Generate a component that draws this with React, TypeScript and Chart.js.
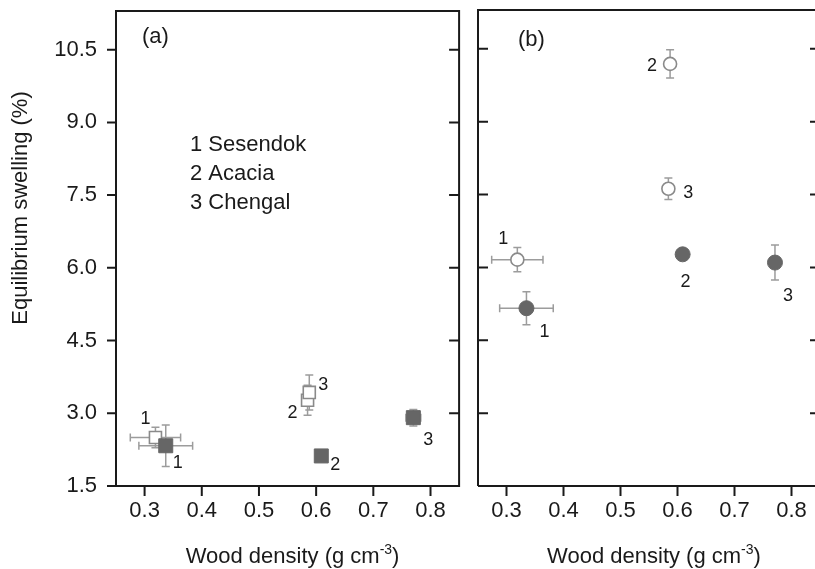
import React, { useEffect, useRef } from "react";
import { Chart, registerables } from "chart.js";
Chart.register(...registerables);

// ---------- data ----------
const xTicks = [0.3, 0.4, 0.5, 0.6, 0.7, 0.8];
const yTicks = [1.5, 3.0, 4.5, 6.0, 7.5, 9.0, 10.5];
const xMin = 0.25;
const xMax = 0.85;
const yMin = 1.5;
const yMax = 11.3;

const speciesIds = ["1", "2", "3"];
const speciesNames = ["Sesendok", "Acacia", "Chengal"];
const yTitle = "Equilibrium swelling (%)";

// Panel (a) - squares
const aOpenX = [0.319, 0.585, 0.588];
const aOpenY = [2.5, 3.27, 3.43];
const aOpenXErr = [0.044, 0, 0];
const aOpenYErr = [0.21, 0.31, 0.36];
const aFilledX = [0.337, 0.609, 0.77];
const aFilledY = [2.33, 2.12, 2.91];
const aFilledXErr = [0.047, 0, 0.013];
const aFilledYErr = [0.43, 0, 0.17];

// Panel (b) - circles
const bOpenX = [0.319, 0.587, 0.584];
const bOpenY = [6.16, 10.19, 7.62];
const bOpenXErr = [0.045, 0, 0];
const bOpenYErr = [0.25, 0.29, 0.22];
const bFilledX = [0.335, 0.609, 0.771];
const bFilledY = [5.16, 6.27, 6.1];
const bFilledXErr = [0.047, 0, 0];
const bFilledYErr = [0.34, 0, 0.36];

// ---------- styles ----------
const FONT = '"Liberation Sans", Arial, Helvetica, sans-serif';
const INK = "#1a1a1a";
const FILLED = "#666666";
const OPEN_EDGE = "#8a8a8a";
const ERR = "#9c9c9c";

// label offsets (pixels from the marker)
const aOpenOff = [[-10, -18], [-15, 13], [14, -7]];
const aFilledOff = [[12, 17], [14, 9], [15, 22]];
const bOpenOff = [[-14, -21], [-18, 2], [20, 4]];
const bFilledOff = [[18, 24], [3, 28], [13, 33]];

type Panel = {
  tag: string;
  tagX: number;
  tagY: number;
  marker: "rect" | "circle";
  openX: number[]; openY: number[]; openXErr: number[]; openYErr: number[];
  filledX: number[]; filledY: number[]; filledXErr: number[]; filledYErr: number[];
  openOff: number[][]; filledOff: number[][];
  legend: boolean;
  yLabels: boolean;
  leftTicksOut: boolean;
  yAxisWidth: number;
  bottomExt: number;
};

const pts = (xs: number[], ys: number[]) => xs.map((x, i) => ({ x, y: ys[i] }));

const panelPlugin = {
  id: "panelDeco",
  beforeDatasetsDraw(chart: any) {
    const spec: Panel = chart.options.plugins.panelDeco.spec;
    const { ctx, chartArea: ca } = chart;
    const xs = chart.scales.x;
    const ys = chart.scales.y;
    ctx.save();
    // error bars
    ctx.strokeStyle = ERR;
    ctx.lineWidth = 1.5;
    chart.data.datasets.forEach((ds: any) => {
      ds.data.forEach((p: any, j: number) => {
        const px = xs.getPixelForValue(p.x);
        const py = ys.getPixelForValue(p.y);
        const xe = ds.xErr[j];
        const ye = ds.yErr[j];
        const cap = 4;
        ctx.beginPath();
        if (xe > 0) {
          const x1 = xs.getPixelForValue(p.x - xe);
          const x2 = xs.getPixelForValue(p.x + xe);
          ctx.moveTo(x1, py); ctx.lineTo(x2, py);
          ctx.moveTo(x1, py - cap); ctx.lineTo(x1, py + cap);
          ctx.moveTo(x2, py - cap); ctx.lineTo(x2, py + cap);
        }
        if (ye > 0) {
          const y1 = ys.getPixelForValue(p.y - ye);
          const y2 = ys.getPixelForValue(p.y + ye);
          ctx.moveTo(px, y1); ctx.lineTo(px, y2);
          ctx.moveTo(px - cap, y1); ctx.lineTo(px + cap, y1);
          ctx.moveTo(px - cap, y2); ctx.lineTo(px + cap, y2);
        }
        ctx.stroke();
      });
    });
    // frame
    ctx.strokeStyle = INK;
    ctx.lineWidth = 2;
    ctx.beginPath();
    ctx.moveTo(ca.left - spec.bottomExt, ca.bottom);
    ctx.lineTo(ca.right, ca.bottom);
    ctx.lineTo(ca.right, ca.top);
    ctx.lineTo(ca.left, ca.top);
    ctx.lineTo(ca.left, ca.bottom);
    ctx.stroke();
    // ticks
    const tl = 10;
    ctx.beginPath();
    yTicks.forEach((v) => {
      const y = ys.getPixelForValue(v);
      if (v === yMin) return;
      if (spec.leftTicksOut) { ctx.moveTo(ca.left - tl + 1, y); ctx.lineTo(ca.left, y); }
      else { ctx.moveTo(ca.left, y); ctx.lineTo(ca.left + tl, y); }
      ctx.moveTo(ca.right - tl, y); ctx.lineTo(ca.right, y);
    });
    xTicks.forEach((v) => {
      const x = xs.getPixelForValue(v);
      ctx.moveTo(x, ca.bottom); ctx.lineTo(x, ca.bottom + tl);
    });
    ctx.stroke();
    ctx.restore();
  },
  afterDatasetsDraw(chart: any) {
    const spec: Panel = chart.options.plugins.panelDeco.spec;
    const { ctx, chartArea: ca } = chart;
    const xs = chart.scales.x;
    const ys = chart.scales.y;
    ctx.save();
    ctx.fillStyle = INK;
    // point id labels
    ctx.font = `18px ${FONT}`;
    ctx.textAlign = "center";
    ctx.textBaseline = "middle";
    chart.data.datasets.forEach((ds: any) => {
      ds.data.forEach((p: any, j: number) => {
        const px = xs.getPixelForValue(p.x);
        const py = ys.getPixelForValue(p.y);
        ctx.fillText(speciesIds[j], px + ds.labelOff[j][0], py + ds.labelOff[j][1]);
      });
    });
    // panel tag
    ctx.font = `22px ${FONT}`;
    ctx.textAlign = "left";
    ctx.fillText(spec.tag, spec.tagX, spec.tagY);
    // legend text + y title
    if (spec.legend) {
      speciesNames.forEach((n, i) => {
        ctx.fillText(`${speciesIds[i]} ${n}`, 190, 145 + i * 29);
      });
      ctx.save();
      ctx.translate(21, 208);
      ctx.rotate(-Math.PI / 2);
      ctx.textAlign = "center";
      ctx.textBaseline = "middle";
      ctx.fillText(yTitle, 0, 0);
      ctx.restore();
    }
    // x-axis title with superscript
    const main = "Wood density (g cm";
    const sup = "-3";
    const close = ")";
    ctx.font = `22px ${FONT}`;
    const wMain = ctx.measureText(main).width;
    const wClose = ctx.measureText(close).width;
    ctx.font = `14px ${FONT}`;
    const wSup = ctx.measureText(sup).width;
    const total = wMain + wSup + wClose;
    const x0 = (ca.left + ca.right) / 2 + 5 - total / 2;
    const base = 563;
    ctx.textAlign = "left";
    ctx.textBaseline = "alphabetic";
    ctx.font = `22px ${FONT}`;
    ctx.fillText(main, x0, base);
    ctx.font = `14px ${FONT}`;
    ctx.fillText(sup, x0 + wMain, base - 9);
    ctx.font = `22px ${FONT}`;
    ctx.fillText(close, x0 + wMain + wSup, base);
    ctx.restore();
  },
};

function makeConfig(spec: Panel): any {
  const isRect = spec.marker === "rect";
  return {
    type: "scatter",
    data: {
      datasets: [
        {
          label: "filled",
          data: pts(spec.filledX, spec.filledY),
          xErr: spec.filledXErr,
          yErr: spec.filledYErr,
          labelOff: spec.filledOff,
          pointStyle: spec.marker,
          pointRadius: isRect ? 9.9 : 7.5,
          backgroundColor: FILLED,
          borderColor: FILLED,
          borderWidth: 1,
        },
        {
          label: "open",
          data: pts(spec.openX, spec.openY),
          xErr: spec.openXErr,
          yErr: spec.openYErr,
          labelOff: spec.openOff,
          pointStyle: spec.marker,
          pointRadius: isRect ? 8.5 : 6.5,
          backgroundColor: "#ffffff",
          borderColor: OPEN_EDGE,
          borderWidth: 1.6,
        },
      ],
    },
    options: {
      responsive: false,
      animation: false,
      devicePixelRatio: 1,
      layout: { padding: { left: 0, top: 10, right: 10, bottom: 0 } },
      plugins: {
        legend: { display: false },
        tooltip: { enabled: false },
        panelDeco: { spec },
      },
      scales: {
        x: {
          type: "linear",
          min: xMin,
          max: xMax,
          afterBuildTicks: (s: any) => { s.ticks = xTicks.map((v) => ({ value: v })); },
          afterFit: (s: any) => { s.height = 83; s.paddingLeft = 0; s.paddingRight = 0; },
          grid: { display: false, drawTicks: false },
          border: { display: false },
          ticks: {
            padding: 12,
            color: INK,
            font: { family: FONT, size: 22 },
            callback: (v: number) => v.toFixed(1),
            maxRotation: 0,
          },
        },
        y: {
          type: "linear",
          min: yMin,
          max: yMax,
          afterBuildTicks: (s: any) => { s.ticks = yTicks.map((v) => ({ value: v })); },
          afterFit: (s: any) => { s.width = spec.yAxisWidth; s.paddingTop = 0; s.paddingBottom = 0; },
          grid: { display: false, drawTicks: false },
          border: { display: false },
          ticks: {
            display: spec.yLabels,
            padding: 19,
            color: INK,
            font: { family: FONT, size: 22 },
            callback: (v: number) => v.toFixed(1),
          },
        },
      },
    },
    plugins: [panelPlugin],
  };
}

const panelA: Panel = {
  tag: "(a)", tagX: 142, tagY: 37, marker: "rect",
  openX: aOpenX, openY: aOpenY, openXErr: aOpenXErr, openYErr: aOpenYErr,
  filledX: aFilledX, filledY: aFilledY, filledXErr: aFilledXErr, filledYErr: aFilledYErr,
  openOff: aOpenOff, filledOff: aFilledOff,
  legend: true, yLabels: true, leftTicksOut: true, yAxisWidth: 116, bottomExt: 9,
};

const panelB: Panel = {
  tag: "(b)", tagX: 53, tagY: 40, marker: "circle",
  openX: bOpenX, openY: bOpenY, openXErr: bOpenXErr, openYErr: bOpenYErr,
  filledX: bFilledX, filledY: bFilledY, filledXErr: bFilledXErr, filledYErr: bFilledYErr,
  openOff: bOpenOff, filledOff: bFilledOff,
  legend: false, yLabels: false, leftTicksOut: false, yAxisWidth: 13, bottomExt: 0,
};

export default function App() {
  const refA = useRef<HTMLCanvasElement | null>(null);
  const refB = useRef<HTMLCanvasElement | null>(null);
  useEffect(() => {
    const ca = new Chart(refA.current as HTMLCanvasElement, makeConfig(panelA));
    const cb = new Chart(refB.current as HTMLCanvasElement, makeConfig(panelB));
    return () => { ca.destroy(); cb.destroy(); };
  }, []);
  return (
    <div style={{ position: "fixed", left: 0, top: 0, width: 815, height: 569, overflow: "hidden", background: "#ffffff" }}>
      <canvas ref={refA} width={470} height={569} style={{ position: "absolute", left: 0, top: 0, width: 470, height: 569 }} />
      <canvas ref={refB} width={365} height={569} style={{ position: "absolute", left: 465, top: 0, width: 365, height: 569 }} />
    </div>
  );
}
